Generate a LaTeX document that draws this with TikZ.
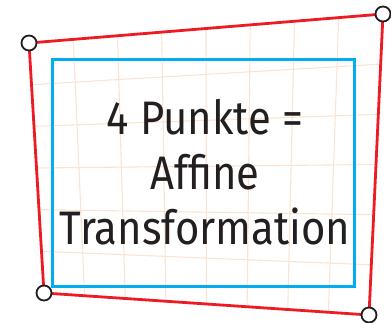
\documentclass[tikz,border=0pt]{standalone}
\usepackage{fontspec}
\setmainfont{Fira Sans}
\usetikzlibrary{calc}
\definecolor{edgered}{HTML}{ED1C24}
\definecolor{framecyan}{HTML}{00AEEF}
\definecolor{gridpeach}{HTML}{FCE3CF}
\definecolor{inkdark}{HTML}{231F20}
\tikzset{
  corner/.style={circle, draw=inkdark, fill=white, line width=1.8pt, minimum size=15pt, inner sep=0pt},
  gridline/.style={draw=gridpeach, line width=1.1pt},
  quadline/.style={draw=edgered, line width=2.8pt, line join=miter},
  framebox/.style={draw=framecyan, line width=3pt},
  caption/.style={font=\fontsize{47}{55}\selectfont, text=inkdark, align=center, inner sep=0pt}
}
\begin{document}
\begin{tikzpicture}[x=1pt, y=-1pt]
  \useasboundingbox (0,0) rectangle (391,323);
  % corner points of the warped quadrilateral
  \coordinate (TL) at (29,43);
  \coordinate (TR) at (383,14);
  \coordinate (BL) at (44,293);
  \coordinate (BR) at (369,315);
  % bilinear grid, 8 x 6 cells
  \foreach \i in {1,...,7} {
    \draw[gridline] ($(TL)!\i/8!(TR)$) -- ($(BL)!\i/8!(BR)$);
  }
  \foreach \j in {1,...,5} {
    \draw[gridline] ($(TL)!\j/6!(BL)$) -- ($(TR)!\j/6!(BR)$);
  }
  % undistorted frame
  \draw[framebox] (52,60) rectangle (354,286);
  % text
  \node[caption, xscale=0.89] (txt) at (205,172) {4 Punkte =\\Affine\\Transformation};
  % warped outline
  \draw[quadline] (TL) -- (TR) -- (BR) -- (BL) -- cycle;
  \node[corner] (cTL) at (TL) {};
  \node[corner] (cTR) at (TR) {};
  \node[corner] (cBL) at (BL) {};
  \node[corner] (cBR) at (BR) {};
\end{tikzpicture}
\end{document}
